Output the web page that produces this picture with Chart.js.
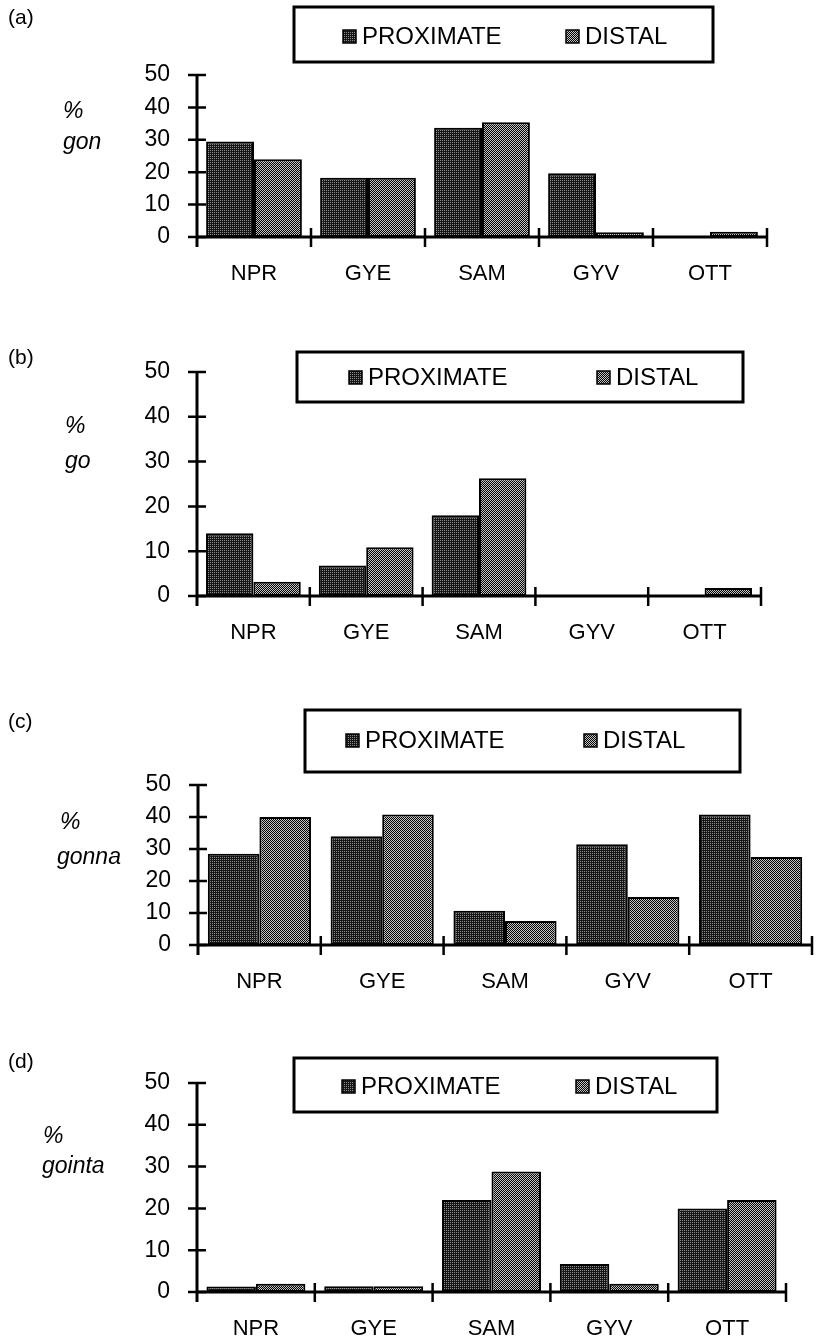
<!DOCTYPE html>
<html>
<head>
<meta charset="utf-8">
<script src="https://cdn.jsdelivr.net/npm/chart.js@4.4.1/dist/chart.umd.min.js"></script>
<style>
  body { margin: 0; background: #fff; width: 816px; height: 1344px; position: relative; overflow: hidden;
         font-family: 'Liberation Sans', Arial, Helvetica, sans-serif; color: #000; }
  .panel { position: absolute; left: 0; width: 816px; }
  .tag, .ytitle { position: absolute; line-height: 1; transform: translateY(-50%); white-space: nowrap; }
  .tag { font-size: 21px; }
  .ytitle { font-size: 23px; font-style: italic; }
</style>
</head>
<body>
<div id="page"></div>
<script>
const CATEGORIES = ['NPR', 'GYE', 'SAM', 'GYV', 'OTT'];
const SERIES = ['PROXIMATE', 'DISTAL'];
const Y_TICKS = [0, 10, 20, 30, 40, 50];

// (a) % gon
const GON_PROXIMATE = [29.5, 18.3, 33.7, 19.7, 0];
const GON_DISTAL = [24.0, 18.3, 35.4, 1.5, 1.6];
// (b) % go
const GO_PROXIMATE = [14.0, 6.8, 18.0, 0, 0];
const GO_DISTAL = [3.2, 10.9, 26.3, 0, 1.8];
// (c) % gonna
const GONNA_PROXIMATE = [28.5, 34.0, 10.7, 31.5, 40.8];
const GONNA_DISTAL = [40.0, 40.8, 7.5, 15.0, 27.5];
// (d) % gointa
const GOINTA_PROXIMATE = [1.3, 1.4, 22.0, 6.7, 20.0];
const GOINTA_DISTAL = [2.0, 1.4, 28.8, 2.0, 22.0];

const X_AXIS_H = 50;

// page layout of each panel (pixels), kept apart from the data
const PANELS = [
  { tag: '(a)', tagY: 16, title: 'gon', pctX: 63, titleX: 63, pctY: 110, titleY: 141,
    top: 0, height: 320, area: { l: 197, r: 767, t: 75, b: 237 },
    legend: { box: [294, 7, 713, 62], sw: [343, 566], textY: 36 },
    prox: GON_PROXIMATE, dist: GON_DISTAL },
  { tag: '(b)', tagY: 356, title: 'go', pctX: 65, titleX: 65, pctY: 425, titleY: 460,
    top: 320, height: 345, area: { l: 197, r: 761, t: 372, b: 596 },
    legend: { box: [297, 352, 743, 402], sw: [349, 597], textY: 377 },
    prox: GO_PROXIMATE, dist: GO_DISTAL },
  { tag: '(c)', tagY: 720, title: 'gonna', pctX: 60, titleX: 57, pctY: 821, titleY: 856,
    top: 665, height: 345, area: { l: 198, r: 812, t: 785, b: 945 },
    legend: { box: [305, 710, 740, 772], sw: [346, 584], textY: 740 },
    prox: GONNA_PROXIMATE, dist: GONNA_DISTAL },
  { tag: '(d)', tagY: 1060, title: 'gointa', pctX: 43, titleX: 42, pctY: 1135, titleY: 1165,
    top: 1010, height: 334, area: { l: 197, r: 786, t: 1083, b: 1292 },
    legend: { box: [294, 1058, 717, 1112], sw: [342, 576], textY: 1086 },
    prox: GOINTA_PROXIMATE, dist: GOINTA_DISTAL },
];

function makePattern(size, paint) {
  const c = document.createElement('canvas');
  c.width = c.height = size;
  const g = c.getContext('2d');
  paint(g);
  return g.createPattern(c, 'repeat');
}

// dark stipple for proximate, black/white dot grid for distal
const proxFill = makePattern(2, (g) => {
  g.fillStyle = '#161616'; g.fillRect(0, 0, 2, 2);
  g.fillStyle = '#8c8c8c'; g.fillRect(0, 0, 1, 1);
});
const distFill = makePattern(2, (g) => {
  g.fillStyle = '#000'; g.fillRect(0, 0, 2, 2);
  g.fillStyle = '#c4c4c4'; g.fillRect(0, 0, 1, 1); g.fillRect(1, 1, 1, 1);
});

Chart.defaults.font.family = "'Liberation Sans', Arial, Helvetica, sans-serif";
Chart.defaults.color = '#000';

// thick axes with ticks crossing the lines, as in the printed figure
const oldAxes = {
  id: 'oldAxes',
  afterDatasetsDraw(chart) {
    const { ctx, chartArea: a, scales: { x, y } } = chart;
    ctx.save();
    ctx.strokeStyle = '#000';
    ctx.lineWidth = 3;
    ctx.beginPath();
    ctx.moveTo(a.left, y.getPixelForValue(Y_TICKS[Y_TICKS.length - 1]));
    ctx.lineTo(a.left, a.bottom + 10);
    ctx.moveTo(a.left - 1, a.bottom);
    ctx.lineTo(a.right, a.bottom);
    ctx.stroke();
    ctx.lineWidth = 2.5;
    ctx.beginPath();
    y.ticks.forEach((t, i) => {
      const py = y.getPixelForTick(i);
      ctx.moveTo(a.left - 9, py);
      ctx.lineTo(a.left + 9, py);
    });
    const n = x.ticks.length;
    for (let i = 1; i <= n; i++) {
      const px = a.left + (i * (a.right - a.left)) / n;
      ctx.moveTo(px, a.bottom - 9);
      ctx.lineTo(px, a.bottom + 10);
    }
    ctx.stroke();
    ctx.restore();
  },
};

const boxLegend = {
  id: 'boxLegend',
  afterDraw(chart, args, opts) {
    const { ctx } = chart;
    const [x0, y0, x1, y1] = opts.box;
    const off = opts.offset;
    ctx.save();
    ctx.strokeStyle = '#000';
    ctx.lineWidth = 3;
    ctx.strokeRect(x0, y0 - off, x1 - x0, y1 - y0);
    ctx.font = "24px 'Liberation Sans', Arial, sans-serif";
    ctx.textBaseline = 'middle';
    chart.data.datasets.forEach((ds, i) => {
      const sx = opts.sw[i];
      const ty = opts.textY - off;
      ctx.fillStyle = ds.backgroundColor;
      ctx.fillRect(sx, ty - 6, 13, 13);
      ctx.strokeStyle = '#000';
      ctx.lineWidth = 1.5;
      ctx.strokeRect(sx, ty - 6, 13, 13);
      ctx.fillStyle = '#000';
      ctx.fillText(ds.label, sx + 19, ty + 1);
    });
    ctx.restore();
  },
};

const page = document.getElementById('page');

PANELS.forEach((p) => {
  const wrap = document.createElement('div');
  wrap.className = 'panel';
  wrap.style.top = p.top + 'px';
  wrap.style.height = p.height + 'px';
  const canvas = document.createElement('canvas');
  canvas.width = 816;
  canvas.height = p.height;
  wrap.appendChild(canvas);
  page.appendChild(wrap);

  const tag = document.createElement('div');
  tag.className = 'tag';
  tag.textContent = p.tag;
  tag.style.left = '8px';
  tag.style.top = p.tagY + 'px';
  const pct = document.createElement('div');
  pct.className = 'ytitle';
  pct.textContent = '%';
  pct.style.left = p.pctX + 'px';
  pct.style.top = p.pctY + 'px';
  const ttl = document.createElement('div');
  ttl.className = 'ytitle';
  ttl.textContent = p.title;
  ttl.style.left = p.titleX + 'px';
  ttl.style.top = p.titleY + 'px';
  page.append(tag, pct, ttl);

  const a = p.area;
  new Chart(canvas.getContext('2d'), {
    type: 'bar',
    data: {
      labels: CATEGORIES,
      datasets: [
        { label: SERIES[0], data: p.prox, backgroundColor: proxFill },
        { label: SERIES[1], data: p.dist, backgroundColor: distFill },
      ],
    },
    options: {
      responsive: false,
      animation: false,
      events: [],
      layout: {
        padding: {
          left: 0,
          right: 816 - a.r,
          top: a.t - p.top,
          bottom: p.top + p.height - a.b - X_AXIS_H,
        },
      },
      datasets: {
        bar: {
          categoryPercentage: 0.84,
          barPercentage: 1.0,
          borderColor: '#000',
          borderWidth: 2,
          borderSkipped: false,
        },
      },
      plugins: {
        legend: { display: false },
        tooltip: { enabled: false },
        boxLegend: { box: p.legend.box, sw: p.legend.sw, textY: p.legend.textY, offset: p.top },
      },
      scales: {
        x: {
          offset: true,
          grid: { display: false, drawTicks: false },
          border: { display: false },
          ticks: { padding: 24, font: { size: 22 } },
          afterFit: (scale) => { scale.height = X_AXIS_H; },
        },
        y: {
          min: Y_TICKS[0],
          max: Y_TICKS[Y_TICKS.length - 1],
          grid: { display: false, drawTicks: false },
          border: { display: false },
          ticks: { stepSize: Y_TICKS[1] - Y_TICKS[0], padding: 27, font: { size: 23 } },
          afterFit: (scale) => { scale.width = a.l; },
        },
      },
    },
    plugins: [oldAxes, boxLegend],
  });
});
</script>
</body>
</html>
